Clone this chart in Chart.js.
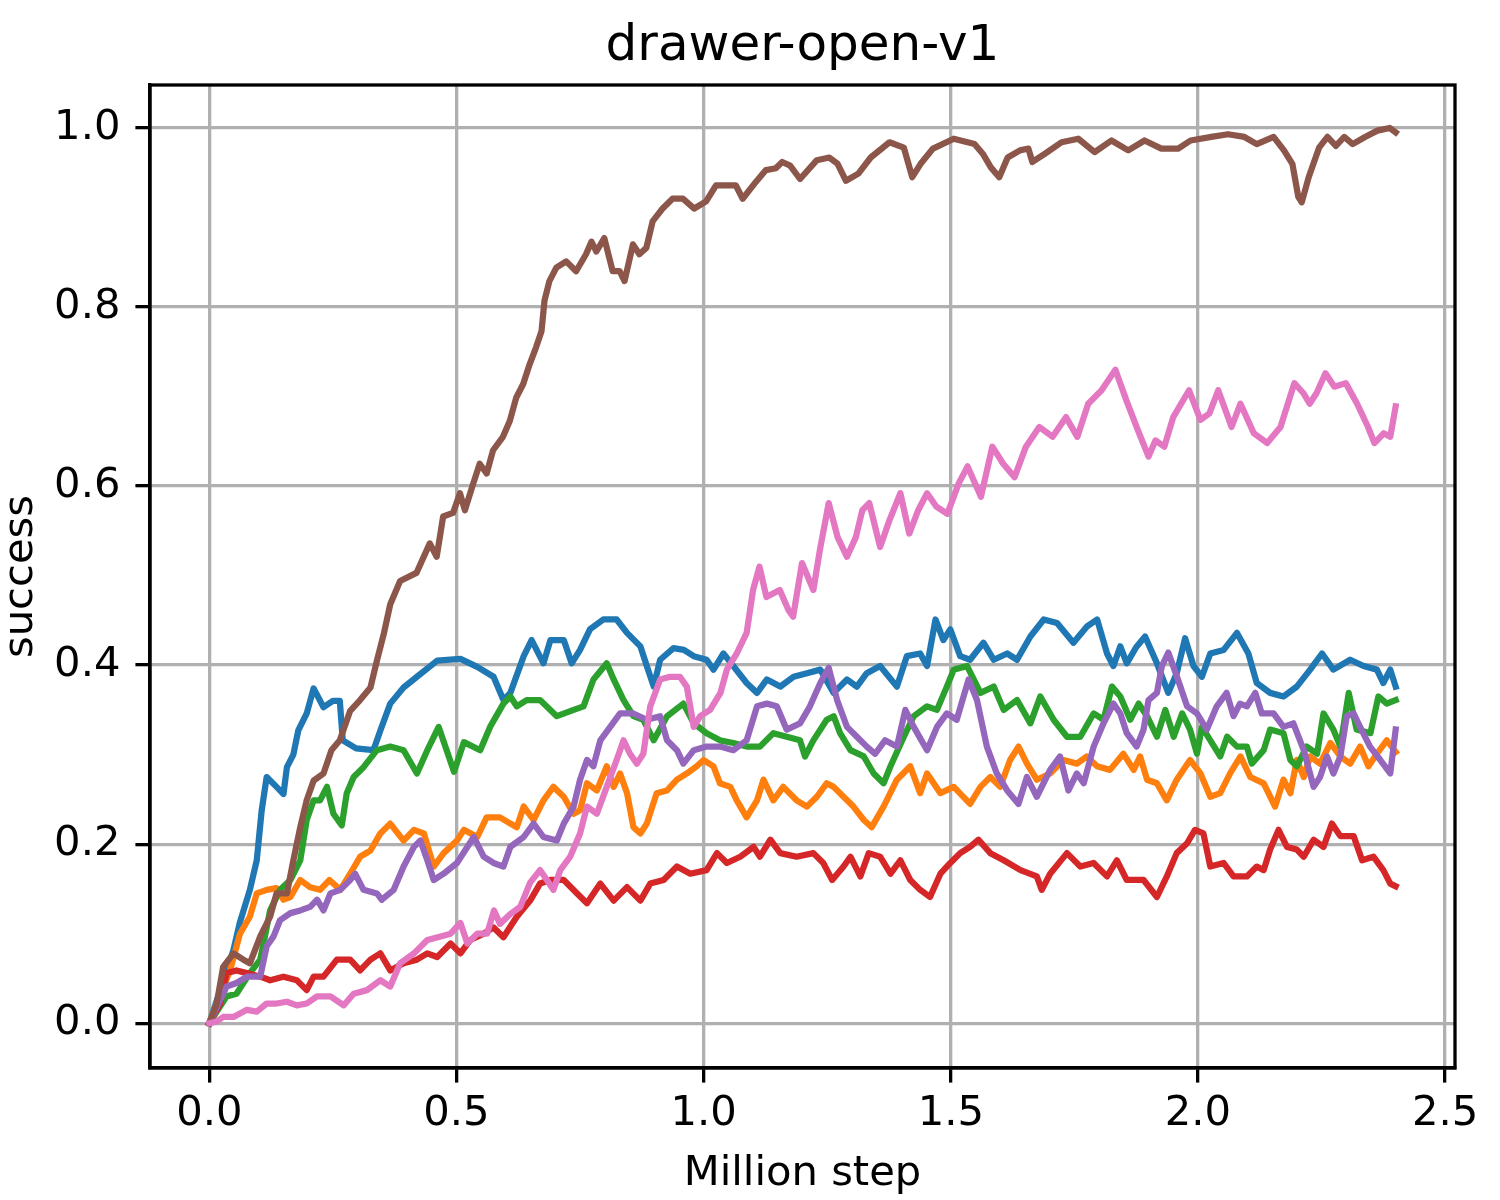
<!DOCTYPE html>
<html>
<head>
<meta charset="utf-8">
<script src="https://cdn.jsdelivr.net/npm/chart.js@4.4.1/dist/chart.umd.min.js"></script>
<style>
  html, body { margin: 0; padding: 0; background: #ffffff; }
  #wrap { width: 1500px; height: 1200px; }
</style>
</head>
<body>
<div id="wrap"><canvas id="c" width="1500" height="1200"></canvas></div>
<script>
const chartTitle = "drawer-open-v1";
const xLabel = "Million step";
const yLabel = "success";
const xTicks = [0, 0.5, 1.0, 1.5, 2.0, 2.5];
const yTicks = [0, 0.2, 0.4, 0.6, 0.8, 1.0];

const seriesBlue = [[0,0],[0.049,0.082],[0.062,0.113],[0.082,0.149],[0.096,0.182],[0.106,0.238],[0.116,0.275],[0.136,0.264],[0.15,0.256],[0.157,0.286],[0.17,0.30],[0.18,0.327],[0.197,0.346],[0.211,0.374],[0.231,0.353],[0.25,0.36],[0.264,0.36],[0.27,0.316],[0.297,0.307],[0.332,0.305],[0.346,0.327],[0.366,0.357],[0.393,0.375],[0.42,0.387],[0.461,0.405],[0.508,0.407],[0.542,0.398],[0.575,0.387],[0.595,0.361],[0.609,0.369],[0.636,0.41],[0.652,0.428],[0.676,0.402],[0.69,0.428],[0.717,0.428],[0.733,0.402],[0.75,0.417],[0.77,0.44],[0.797,0.451],[0.824,0.451],[0.845,0.436],[0.872,0.421],[0.885,0.399],[0.899,0.376],[0.912,0.406],[0.939,0.419],[0.96,0.417],[0.98,0.41],[1.006,0.406],[1.02,0.395],[1.04,0.413],[1.06,0.399],[1.087,0.38],[1.108,0.369],[1.128,0.384],[1.155,0.376],[1.182,0.387],[1.209,0.391],[1.236,0.395],[1.263,0.369],[1.29,0.384],[1.31,0.376],[1.33,0.391],[1.357,0.399],[1.391,0.376],[1.411,0.41],[1.438,0.413],[1.452,0.399],[1.469,0.451],[1.485,0.428],[1.499,0.44],[1.519,0.41],[1.539,0.406],[1.566,0.425],[1.587,0.406],[1.614,0.413],[1.634,0.406],[1.661,0.432],[1.688,0.451],[1.715,0.447],[1.748,0.425],[1.775,0.443],[1.796,0.451],[1.816,0.413],[1.829,0.399],[1.843,0.421],[1.856,0.402],[1.875,0.42],[1.893,0.432],[1.917,0.402],[1.94,0.369],[1.957,0.391],[1.974,0.43],[1.991,0.399],[2.008,0.387],[2.025,0.413],[2.052,0.417],[2.079,0.436],[2.102,0.413],[2.119,0.38],[2.146,0.369],[2.173,0.365],[2.2,0.376],[2.227,0.395],[2.251,0.413],[2.274,0.395],[2.308,0.406],[2.335,0.399],[2.362,0.395],[2.375,0.38],[2.389,0.395],[2.4,0.376]];

const seriesOrange = [[0,0],[0.015,0.022],[0.042,0.059],[0.062,0.1],[0.082,0.119],[0.096,0.145],[0.116,0.149],[0.136,0.151],[0.15,0.138],[0.164,0.141],[0.184,0.16],[0.204,0.152],[0.224,0.149],[0.243,0.16],[0.265,0.149],[0.285,0.167],[0.305,0.186],[0.326,0.193],[0.346,0.212],[0.366,0.223],[0.393,0.204],[0.414,0.216],[0.434,0.212],[0.454,0.175],[0.474,0.19],[0.501,0.204],[0.515,0.216],[0.542,0.208],[0.561,0.23],[0.588,0.23],[0.609,0.223],[0.622,0.219],[0.636,0.242],[0.656,0.227],[0.676,0.249],[0.696,0.264],[0.717,0.253],[0.737,0.234],[0.75,0.238],[0.764,0.268],[0.784,0.26],[0.804,0.287],[0.818,0.264],[0.831,0.279],[0.845,0.257],[0.858,0.219],[0.872,0.212],[0.885,0.223],[0.905,0.257],[0.926,0.26],[0.946,0.272],[0.966,0.279],[0.986,0.287],[1.0,0.294],[1.02,0.287],[1.033,0.268],[1.054,0.264],[1.067,0.249],[1.087,0.23],[1.108,0.249],[1.121,0.272],[1.141,0.249],[1.161,0.264],[1.188,0.249],[1.209,0.242],[1.229,0.253],[1.249,0.268],[1.263,0.264],[1.283,0.253],[1.303,0.242],[1.324,0.227],[1.34,0.219],[1.364,0.242],[1.391,0.272],[1.418,0.287],[1.438,0.257],[1.452,0.279],[1.479,0.257],[1.506,0.264],[1.539,0.245],[1.56,0.264],[1.58,0.275],[1.6,0.264],[1.62,0.294],[1.637,0.309],[1.654,0.29],[1.674,0.272],[1.701,0.279],[1.728,0.294],[1.755,0.29],[1.775,0.298],[1.796,0.287],[1.822,0.283],[1.849,0.301],[1.87,0.283],[1.883,0.298],[1.897,0.272],[1.917,0.268],[1.937,0.249],[1.957,0.272],[1.984,0.294],[2.005,0.279],[2.025,0.253],[2.045,0.257],[2.065,0.279],[2.086,0.298],[2.106,0.275],[2.133,0.268],[2.156,0.242],[2.173,0.272],[2.187,0.257],[2.2,0.294],[2.214,0.275],[2.227,0.298],[2.247,0.29],[2.268,0.313],[2.288,0.298],[2.308,0.29],[2.328,0.309],[2.345,0.287],[2.362,0.301],[2.382,0.316],[2.4,0.303]];

const seriesGreen = [[0,0],[0.035,0.03],[0.055,0.033],[0.082,0.056],[0.103,0.071],[0.123,0.126],[0.143,0.149],[0.164,0.16],[0.184,0.182],[0.197,0.227],[0.211,0.249],[0.224,0.249],[0.238,0.264],[0.251,0.234],[0.268,0.221],[0.278,0.257],[0.292,0.275],[0.312,0.286],[0.339,0.305],[0.366,0.309],[0.393,0.305],[0.42,0.279],[0.441,0.305],[0.464,0.331],[0.495,0.281],[0.515,0.314],[0.548,0.305],[0.568,0.331],[0.595,0.357],[0.609,0.365],[0.622,0.354],[0.642,0.361],[0.669,0.361],[0.703,0.343],[0.737,0.35],[0.757,0.354],[0.777,0.384],[0.804,0.402],[0.818,0.384],[0.838,0.361],[0.858,0.343],[0.878,0.339],[0.899,0.316],[0.926,0.343],[0.959,0.357],[0.98,0.335],[1.006,0.324],[1.033,0.316],[1.06,0.313],[1.087,0.309],[1.114,0.309],[1.141,0.324],[1.168,0.32],[1.195,0.316],[1.205,0.298],[1.222,0.316],[1.249,0.339],[1.263,0.343],[1.276,0.324],[1.297,0.305],[1.324,0.298],[1.344,0.279],[1.364,0.268],[1.378,0.287],[1.405,0.32],[1.425,0.343],[1.452,0.354],[1.472,0.35],[1.492,0.376],[1.506,0.395],[1.533,0.399],[1.56,0.369],[1.587,0.376],[1.607,0.35],[1.634,0.361],[1.661,0.335],[1.681,0.365],[1.708,0.339],[1.735,0.32],[1.762,0.32],[1.789,0.346],[1.809,0.339],[1.826,0.376],[1.843,0.365],[1.863,0.339],[1.88,0.357],[1.897,0.343],[1.917,0.32],[1.934,0.35],[1.951,0.32],[1.968,0.346],[1.984,0.328],[1.998,0.301],[2.008,0.331],[2.025,0.316],[2.045,0.298],[2.059,0.32],[2.079,0.309],[2.099,0.309],[2.109,0.29],[2.133,0.305],[2.146,0.328],[2.173,0.324],[2.187,0.294],[2.2,0.287],[2.22,0.309],[2.241,0.301],[2.254,0.346],[2.274,0.328],[2.288,0.309],[2.305,0.369],[2.321,0.328],[2.349,0.324],[2.365,0.365],[2.382,0.357],[2.4,0.361]];

const seriesRed = [[0,0],[0.022,0.022],[0.035,0.056],[0.055,0.059],[0.076,0.056],[0.103,0.052],[0.123,0.048],[0.15,0.052],[0.177,0.048],[0.197,0.037],[0.211,0.052],[0.231,0.052],[0.258,0.071],[0.285,0.071],[0.305,0.059],[0.326,0.071],[0.346,0.078],[0.366,0.059],[0.393,0.067],[0.42,0.071],[0.441,0.078],[0.461,0.074],[0.488,0.089],[0.508,0.078],[0.528,0.093],[0.555,0.1],[0.575,0.107],[0.595,0.096],[0.622,0.119],[0.649,0.137],[0.669,0.156],[0.69,0.16],[0.717,0.16],[0.744,0.145],[0.764,0.134],[0.791,0.156],[0.818,0.137],[0.845,0.152],[0.872,0.137],[0.892,0.156],[0.919,0.16],[0.946,0.175],[0.973,0.167],[1.006,0.171],[1.027,0.19],[1.047,0.179],[1.074,0.186],[1.101,0.197],[1.114,0.186],[1.135,0.205],[1.155,0.19],[1.188,0.186],[1.222,0.19],[1.242,0.179],[1.26,0.16],[1.283,0.175],[1.297,0.186],[1.317,0.164],[1.334,0.19],[1.357,0.186],[1.378,0.167],[1.398,0.182],[1.418,0.16],[1.438,0.149],[1.458,0.141],[1.479,0.167],[1.499,0.179],[1.519,0.19],[1.539,0.197],[1.556,0.205],[1.58,0.19],[1.607,0.182],[1.641,0.171],[1.674,0.164],[1.684,0.149],[1.701,0.167],[1.735,0.19],[1.762,0.175],[1.789,0.179],[1.816,0.164],[1.836,0.182],[1.856,0.16],[1.89,0.16],[1.917,0.141],[1.937,0.164],[1.957,0.19],[1.978,0.201],[1.994,0.216],[2.011,0.212],[2.025,0.175],[2.052,0.179],[2.072,0.164],[2.099,0.164],[2.119,0.175],[2.133,0.171],[2.146,0.194],[2.163,0.216],[2.18,0.197],[2.2,0.194],[2.214,0.186],[2.234,0.205],[2.254,0.197],[2.271,0.223],[2.288,0.209],[2.315,0.209],[2.332,0.182],[2.355,0.186],[2.375,0.171],[2.389,0.156],[2.4,0.153]];

const seriesPurple = [[0,0],[0.022,0.026],[0.035,0.041],[0.055,0.045],[0.076,0.052],[0.103,0.052],[0.116,0.086],[0.13,0.097],[0.143,0.115],[0.164,0.123],[0.184,0.126],[0.204,0.13],[0.218,0.138],[0.231,0.126],[0.245,0.145],[0.265,0.149],[0.285,0.16],[0.295,0.167],[0.312,0.149],[0.339,0.145],[0.349,0.138],[0.373,0.149],[0.393,0.175],[0.414,0.197],[0.427,0.204],[0.441,0.182],[0.454,0.16],[0.474,0.167],[0.501,0.179],[0.535,0.208],[0.555,0.186],[0.575,0.179],[0.595,0.175],[0.609,0.197],[0.636,0.208],[0.656,0.223],[0.676,0.208],[0.703,0.204],[0.717,0.223],[0.737,0.242],[0.75,0.272],[0.764,0.294],[0.777,0.287],[0.791,0.316],[0.811,0.331],[0.831,0.346],[0.858,0.346],[0.885,0.339],[0.912,0.343],[0.926,0.316],[0.946,0.305],[0.959,0.29],[0.98,0.305],[1.006,0.309],[1.033,0.309],[1.06,0.305],[1.087,0.316],[1.108,0.354],[1.128,0.357],[1.148,0.354],[1.168,0.328],[1.195,0.335],[1.215,0.354],[1.236,0.38],[1.253,0.397],[1.27,0.361],[1.29,0.331],[1.31,0.32],[1.33,0.309],[1.347,0.301],[1.367,0.316],[1.391,0.309],[1.408,0.35],[1.425,0.331],[1.452,0.305],[1.472,0.331],[1.492,0.346],[1.512,0.339],[1.536,0.384],[1.553,0.361],[1.573,0.309],[1.593,0.279],[1.614,0.26],[1.637,0.245],[1.654,0.275],[1.674,0.253],[1.701,0.283],[1.721,0.298],[1.738,0.26],[1.755,0.279],[1.769,0.268],[1.789,0.309],[1.809,0.335],[1.829,0.357],[1.843,0.346],[1.856,0.324],[1.876,0.309],[1.89,0.328],[1.9,0.361],[1.917,0.369],[1.927,0.399],[1.94,0.414],[1.957,0.388],[1.978,0.354],[1.998,0.346],[2.018,0.328],[2.038,0.354],[2.058,0.369],[2.072,0.343],[2.085,0.357],[2.099,0.354],[2.116,0.369],[2.129,0.346],[2.153,0.346],[2.173,0.331],[2.193,0.335],[2.214,0.305],[2.234,0.264],[2.247,0.275],[2.261,0.298],[2.274,0.279],[2.288,0.298],[2.301,0.343],[2.315,0.346],[2.328,0.331],[2.348,0.309],[2.369,0.294],[2.389,0.279],[2.4,0.328]];

const seriesBrown = [[0,0],[0.015,0.022],[0.028,0.063],[0.049,0.078],[0.069,0.071],[0.082,0.067],[0.103,0.097],[0.123,0.119],[0.136,0.145],[0.157,0.145],[0.17,0.182],[0.184,0.219],[0.197,0.249],[0.211,0.271],[0.231,0.279],[0.247,0.305],[0.264,0.316],[0.285,0.349],[0.305,0.361],[0.326,0.375],[0.339,0.405],[0.353,0.435],[0.366,0.468],[0.386,0.494],[0.419,0.503],[0.446,0.536],[0.46,0.521],[0.473,0.566],[0.493,0.57],[0.507,0.592],[0.517,0.573],[0.534,0.603],[0.547,0.625],[0.561,0.614],[0.574,0.64],[0.594,0.655],[0.608,0.673],[0.621,0.699],[0.635,0.714],[0.648,0.736],[0.661,0.755],[0.672,0.773],[0.678,0.807],[0.688,0.829],[0.702,0.844],[0.722,0.851],[0.742,0.84],[0.762,0.859],[0.773,0.873],[0.783,0.862],[0.799,0.877],[0.816,0.84],[0.83,0.84],[0.84,0.829],[0.857,0.87],[0.87,0.859],[0.884,0.866],[0.897,0.896],[0.917,0.91],[0.937,0.921],[0.958,0.921],[0.981,0.91],[1.005,0.918],[1.025,0.936],[1.045,0.936],[1.065,0.936],[1.079,0.921],[1.106,0.94],[1.126,0.953],[1.146,0.955],[1.159,0.962],[1.175,0.958],[1.195,0.943],[1.229,0.964],[1.254,0.967],[1.271,0.96],[1.288,0.941],[1.313,0.949],[1.338,0.967],[1.376,0.984],[1.405,0.978],[1.422,0.945],[1.439,0.96],[1.464,0.977],[1.506,0.988],[1.548,0.982],[1.565,0.971],[1.581,0.956],[1.598,0.945],[1.615,0.967],[1.64,0.975],[1.657,0.977],[1.665,0.962],[1.69,0.971],[1.724,0.984],[1.758,0.988],[1.791,0.973],[1.825,0.986],[1.859,0.975],[1.892,0.986],[1.926,0.977],[1.96,0.977],[1.985,0.986],[2.027,0.99],[2.061,0.993],[2.094,0.99],[2.119,0.982],[2.153,0.99],[2.174,0.975],[2.191,0.96],[2.203,0.923],[2.21,0.917],[2.224,0.945],[2.245,0.978],[2.262,0.99],[2.279,0.98],[2.296,0.99],[2.313,0.982],[2.338,0.99],[2.363,0.997],[2.388,1.0],[2.4,0.995]];

const seriesPink = [[0,0],[0.015,0.002],[0.028,0.007],[0.049,0.007],[0.076,0.015],[0.096,0.013],[0.116,0.022],[0.136,0.022],[0.157,0.024],[0.177,0.02],[0.197,0.022],[0.218,0.03],[0.245,0.03],[0.272,0.02],[0.292,0.033],[0.319,0.037],[0.346,0.048],[0.366,0.041],[0.386,0.067],[0.414,0.078],[0.441,0.093],[0.468,0.097],[0.488,0.1],[0.508,0.112],[0.522,0.089],[0.542,0.1],[0.562,0.1],[0.576,0.126],[0.588,0.111],[0.609,0.122],[0.629,0.13],[0.649,0.157],[0.669,0.171],[0.683,0.16],[0.696,0.149],[0.71,0.171],[0.73,0.186],[0.75,0.212],[0.764,0.242],[0.784,0.234],[0.804,0.264],[0.824,0.294],[0.838,0.316],[0.851,0.301],[0.865,0.29],[0.878,0.301],[0.892,0.354],[0.912,0.384],[0.932,0.387],[0.952,0.387],[0.966,0.376],[0.98,0.331],[0.993,0.343],[1.013,0.35],[1.034,0.369],[1.047,0.395],[1.067,0.413],[1.087,0.436],[1.1,0.484],[1.113,0.51],[1.127,0.476],[1.154,0.484],[1.172,0.461],[1.181,0.454],[1.199,0.514],[1.222,0.484],[1.235,0.528],[1.253,0.581],[1.271,0.543],[1.29,0.521],[1.308,0.543],[1.321,0.573],[1.335,0.581],[1.357,0.532],[1.376,0.562],[1.398,0.592],[1.416,0.547],[1.434,0.573],[1.452,0.592],[1.471,0.577],[1.493,0.569],[1.516,0.603],[1.534,0.622],[1.561,0.588],[1.584,0.644],[1.606,0.625],[1.629,0.61],[1.652,0.644],[1.679,0.666],[1.706,0.655],[1.733,0.677],[1.756,0.655],[1.778,0.692],[1.805,0.707],[1.833,0.73],[1.855,0.696],[1.878,0.663],[1.9,0.633],[1.914,0.651],[1.932,0.644],[1.95,0.677],[1.982,0.707],[2.005,0.674],[2.023,0.681],[2.041,0.707],[2.068,0.666],[2.086,0.692],[2.113,0.659],[2.14,0.648],[2.167,0.666],[2.195,0.715],[2.213,0.704],[2.226,0.692],[2.24,0.704],[2.258,0.726],[2.276,0.711],[2.299,0.715],[2.322,0.692],[2.344,0.666],[2.357,0.648],[2.376,0.659],[2.389,0.655],[2.4,0.689]];

const seriesList = [seriesBlue, seriesOrange, seriesGreen, seriesRed, seriesPurple, seriesBrown, seriesPink];
const seriesColors = ['#1f77b4', '#ff7f0e', '#2ca02c', '#d62728', '#9467bd', '#8c564b', '#e377c2'];

const FONT = "'DejaVu Sans', 'Liberation Sans', sans-serif";

const datasets = seriesList.map((s, i) => ({
  data: s.map(p => ({ x: p[0], y: p[1] })),
  borderColor: seriesColors[i],
  backgroundColor: seriesColors[i],
  borderWidth: 6.25,
  pointRadius: 0,
  pointHoverRadius: 0,
  tension: 0,
  fill: false,
  borderJoinStyle: 'round',
  borderCapStyle: 'square',
  order: seriesList.length - 1 - i
}));

const frameAndText = {
  id: 'frameAndText',
  afterDraw(chart) {
    const ctx = chart.ctx;
    const a = chart.chartArea;
    ctx.save();
    ctx.strokeStyle = '#000';
    ctx.lineWidth = 3.3;
    ctx.strokeRect(a.left, a.top, a.right - a.left, a.bottom - a.top);
    ctx.fillStyle = '#000';
    ctx.textAlign = 'center';
    ctx.textBaseline = 'alphabetic';
    const cx = (a.left + a.right) / 2;
    ctx.font = '50px ' + FONT;
    ctx.fillText(chartTitle, cx, a.top - 25);
    ctx.font = '41.7px ' + FONT;
    ctx.fillText(xLabel, cx, a.bottom + 117);
    ctx.translate(a.left - 118, (a.top + a.bottom) / 2);
    ctx.rotate(-Math.PI / 2);
    ctx.fillText(yLabel, 0, 0);
    ctx.restore();
  }
};

new Chart(document.getElementById('c'), {
  type: 'line',
  data: { datasets },
  options: {
    responsive: false,
    devicePixelRatio: 1,
    animation: false,
    events: [],
    layout: { padding: { top: 85, right: 45, left: 0, bottom: 0 } },
    plugins: { legend: { display: false }, tooltip: { enabled: false }, title: { display: false } },
    scales: {
      x: {
        type: 'linear',
        min: -0.12,
        max: 2.52,
        afterBuildTicks: s => { s.ticks = xTicks.map(v => ({ value: v })); },
        afterFit: s => { s.height = 132; },
        ticks: {
          callback: v => Number(v).toFixed(1),
          font: { family: FONT, size: 41.7 },
          color: '#000',
          padding: 7,
          maxRotation: 0,
          autoSkip: false
        },
        grid: { color: '#b0b0b0', lineWidth: 3.3, tickLength: 14.6, tickColor: '#000', tickWidth: 3.3 },
        border: { display: true, color: '#000', width: 3.3 }
      },
      y: {
        type: 'linear',
        min: -0.05,
        max: 1.048,
        afterBuildTicks: s => { s.ticks = yTicks.map(v => ({ value: v })); },
        afterFit: s => { s.width = 150; },
        ticks: {
          callback: v => Number(v).toFixed(1),
          font: { family: FONT, size: 41.7 },
          color: '#000',
          padding: 15,
          autoSkip: false
        },
        grid: { color: '#b0b0b0', lineWidth: 3.3, tickLength: 14.6, tickColor: '#000', tickWidth: 3.3 },
        border: { display: true, color: '#000', width: 3.3 }
      }
    }
  },
  plugins: [frameAndText]
});
</script>
</body>
</html>
